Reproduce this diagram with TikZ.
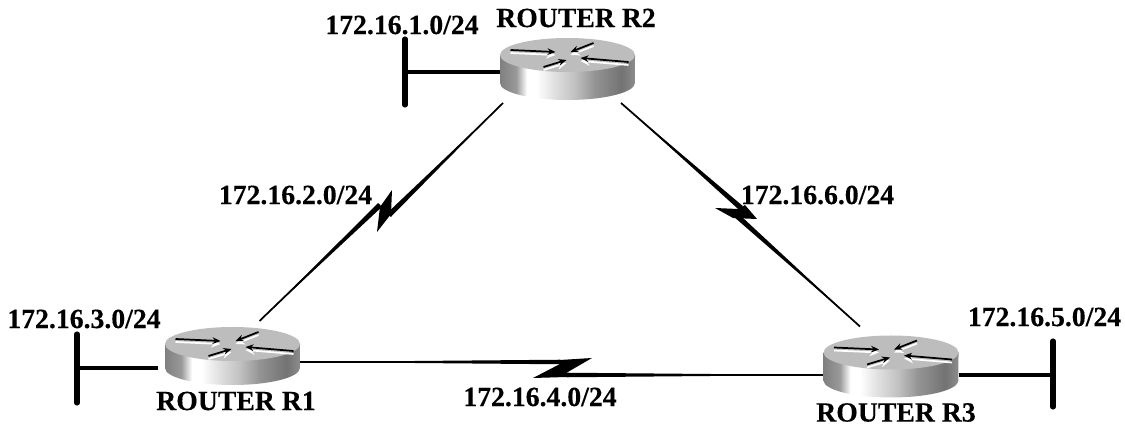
\documentclass[tikz,border=0pt]{standalone}
\usepackage{fontspec}
\setmainfont[BoldFeatures={FakeBold=0.25}]{Liberation Serif}
\usetikzlibrary{arrows.meta,calc}
\definecolor{routertop}{gray}{0.74}
\pgfdeclarehorizontalshading{routerside}{100bp}{color(0bp)=(black!50); color(25bp)=(black!50); color(31bp)=(black!40); color(35bp)=(white); color(38.5bp)=(white); color(45bp)=(black!12); color(52.5bp)=(black!24); color(60bp)=(black!42); color(70bp)=(black!55); color(75bp)=(black!45); color(100bp)=(black!45)}
\newcommand{\wedgelink}[3]{\fill ($(#1)!#3!90:(#2)$) -- ($(#1)!#3!-90:(#2)$) -- (#2) -- cycle;}
\tikzset{
  routerbox/.style={minimum width=101.25pt,minimum height=45pt,inner sep=0pt,outer sep=0pt},
  netlabel/.style={font=\fontsize{20.8}{24}\selectfont\bfseries,inner sep=0pt},
  wan/.style={line width=1.3pt},
  lan/.style={line width=3.5pt},
  lanbar/.style={line width=3.8pt,line cap=round}
}
\begin{document}
\begin{tikzpicture}[x=0.75pt,y=-0.75pt]
  \useasboundingbox (0,0) rectangle (1125,427);
  \node[routerbox] (r1) at (232.5,356) {};
  \node[routerbox] (r2) at (567.5,69) {};
  \node[routerbox] (r3) at (891,366.5) {};
  \coordinate (a12) at (389,215); \coordinate (b12) at (380,205);
  \coordinate (a23) at (741,208); \coordinate (b23) at (737,216);
  \coordinate (a13) at (560,362); \coordinate (b13) at (567,375);
  \coordinate (e12) at ([shift={(3,4)}]r2.south west);
  \coordinate (e21) at ([shift={(27,-5)}]r1.north);
  \coordinate (e23) at ([shift={(-14,4)}]r2.south east);
  \coordinate (e32) at ([shift={(-31,-10)}]r3.north);
  \draw[wan] (e12) -- (a12);
  \draw[wan] (b12) -- (e21);
  \draw[wan] (e23) -- (a23);
  \draw[wan] (b23) -- (e32);
  \draw[wan] (r1.east |- a13) -- (a13);
  \draw[wan] (b13) -- (r3.west |- b13);
  \wedgelink{a12}{e12}{2pt}
  \wedgelink{b12}{e21}{2pt}
  \wedgelink{a23}{e23}{2pt}
  \wedgelink{b23}{e32}{2pt}
  \wedgelink{a13}{r1.east |- a13}{1.7pt}
  \wedgelink{b13}{r3.west |- b13}{1.7pt}
  \fill (392,190) -- (391,214) -- (377,232) -- (380,207) -- cycle;
  \fill (745,205) -- (757,219) -- (733,218) -- (715,208) -- (738,209) -- cycle;
  \fill (592,358) -- (567,372.5) -- (567,377) -- (533,378) -- (560,364) -- (560,360) -- cycle;
  \coordinate (m1) at (77,368); \coordinate (m2) at (405,72); \coordinate (m3) at (1053,375);
  \draw[lan] ([xshift=-5]r1.west |- m1) -- (m1);
  \draw[lan] (r2.west |- m2) -- (m2);
  \draw[lan] (r3.east |- m3) -- (m3);
  \draw[lanbar] (77,334) -- (77,403);
  \draw[lanbar] (405,39) -- (405,105);
  \draw[lanbar] (1053,341) -- (1053,407);
  \foreach \r/\h in {r1/12,r2/14,r3/14}{
    \begin{scope}[shift={(\r.center)}]
      \shade[shading=routerside] (-67.5,-\h) -- (-67.5,\h) arc[start angle=180,end angle=360,x radius=50.6pt,y radius=12.75pt] -- (67.5,-\h) -- cycle;
      \fill[routertop] (0,-\h) ellipse [x radius=50.6pt,y radius=12.75pt];
      \begin{scope}[yshift=\h*0.75pt]
        \foreach \xa/\ya/\xb/\yb in {-57/-5/-12/-3,26/-12/3/-3,61/7/13/3,-24/12/-1/5}{
          \draw[white,line width=1.3pt,-{Stealth[length=7pt,width=6pt]}] (\xa,\ya+3) -- (\xb,\yb+3);
          \draw[black,line width=1.3pt,-{Stealth[length=6pt,width=5pt]}] (\xa,\ya) -- (\xb,\yb);
        }
      \end{scope}
    \end{scope}}
  \node[netlabel] (l1) at (402,25) {172.16.1.0/24};
  \node[netlabel] (l2) at (295.5,195) {172.16.2.0/24};
  \node[netlabel] (l3) at (84,319) {172.16.3.0/24};
  \node[netlabel] (l4) at (540,397) {172.16.4.0/24};
  \node[netlabel] (l5) at (1044.5,317) {172.16.5.0/24};
  \node[netlabel] (l6) at (817.5,195) {172.16.6.0/24};
  \node[netlabel] (n1) at (236,401) {ROUTER R1};
  \node[netlabel] (n2) at (576,18) {ROUTER R2};
  \node[netlabel] (n3) at (896,412.5) {ROUTER R3};
\end{tikzpicture}
\end{document}
